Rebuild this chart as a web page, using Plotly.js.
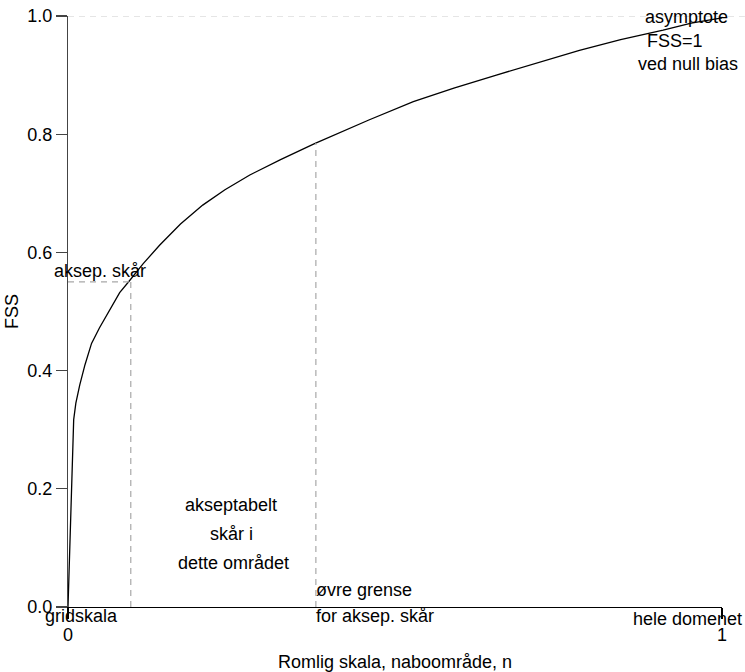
<!DOCTYPE html>
<html>
<head>
<meta charset="utf-8">
<script src="https://cdn.plot.ly/plotly-3.0.1.min.js"></script>
<style>html,body{margin:0;padding:0;background:#fff;}</style>
</head>
<body>
<div id="chart" style="width:745px;height:672px;"></div>
<script>
// FSS curve
const curveX = [0, 0.0087, 0.012, 0.018, 0.026, 0.036, 0.048, 0.06, 0.079, 0.094, 0.115, 0.140, 0.172, 0.206, 0.24, 0.278, 0.325, 0.377, 0.400, 0.46, 0.528, 0.59, 0.655, 0.72, 0.782, 0.845, 0.910, 0.953, 1.0];
const curveY = [0, 0.317, 0.345, 0.376, 0.41, 0.446, 0.472, 0.495, 0.532, 0.552, 0.581, 0.612, 0.648, 0.680, 0.706, 0.731, 0.757, 0.784, 0.795, 0.824, 0.855, 0.878, 0.900, 0.922, 0.942, 0.960, 0.976, 0.988, 0.997];

// reference values
const acceptX = 0.096;     // scale where the acceptable score is reached
const acceptY = 0.55;      // acceptable score
const upperX = 0.379;      // upper limit for acceptable score
const upperY = 0.785;
const asymptoteY = 1.0;

const xTickVals = [0, 1];
const xTickText = ['0', '1'];

const xTitle = 'Romlig skala, naboområde, n';
const yTitle = 'FSS';

// annotation texts
const labels = {
  accept: 'aksep. skår',
  grid: 'gridskala',
  upper1: 'øvre grense',
  upper2: 'for aksep. skår',
  domain: 'hele domenet',
  region: ['akseptabelt', 'skår i', 'dette området'],
  asym: ['asymptote', 'FSS=1', 'ved null bias']
};

const font = {family: 'Liberation Sans, Arial, sans-serif', size: 18, color: '#000'};

const trace = {
  x: curveX, y: curveY, type: 'scatter', mode: 'lines',
  line: {color: '#000', width: 1.3}, hoverinfo: 'skip', showlegend: false
};

const gray = '#a8a8a8';
const shapes = [
  {type: 'line', xref: 'paper', yref: 'y', x0: 0, x1: 1.035, y0: asymptoteY, y1: asymptoteY,
   line: {color: '#cccccc', width: 1.2, dash: '6px,5px'}},
  {type: 'line', xref: 'x', yref: 'y', x0: 0, x1: acceptX, y0: acceptY, y1: acceptY,
   line: {color: gray, width: 1.2, dash: '6px,5px'}},
  {type: 'line', xref: 'x', yref: 'y', x0: acceptX, x1: acceptX, y0: 0, y1: acceptY,
   line: {color: gray, width: 1.2, dash: '6px,5px'}},
  {type: 'line', xref: 'x', yref: 'y', x0: upperX, x1: upperX, y0: 0, y1: upperY,
   line: {color: gray, width: 1.2, dash: '6px,5px'}}
];

// axis ranges are [0,1] and fill the plot area, so paper coordinates equal data coordinates
function ann(text, x, y, xanchor) {
  return {text: text, x: x, y: y, xref: 'paper', yref: 'paper', showarrow: false,
          xanchor: xanchor || 'center', yanchor: 'middle', font: font};
}

const annotations = [
  ann(labels.accept, 0.0485, 0.569),
  ann(labels.grid, 0.021, -0.016),
  ann(labels.upper1, 0.3755, 0.0286, 'left'),
  ann(labels.upper2, 0.3755, -0.016, 'left'),
  ann(labels.domain, 0.9476, -0.02),
  ann(labels.region[0], 0.2488, 0.1734),
  ann(labels.region[1], 0.2495, 0.1227),
  ann(labels.region[2], 0.2530, 0.0737),
  ann(labels.asym[0], 0.9459, 0.9988),
  ann(labels.asym[1], 0.9277, 0.9583),
  ann(labels.asym[2], 0.9476, 0.9189)
];

const layout = {
  width: 745, height: 672, autosize: false,
  margin: {l: 68, r: 23, t: 16, b: 65, pad: 0},
  paper_bgcolor: '#fff', plot_bgcolor: '#fff',
  font: font,
  showlegend: false,
  xaxis: {
    range: [0, 1], tickvals: xTickVals, ticktext: xTickText,
    ticks: 'outside', ticklen: 11, tickcolor: '#000', tickwidth: 1.2,
    showline: true, linecolor: '#000', linewidth: 1.2,
    showgrid: false, zeroline: false, fixedrange: true,
    tickfont: font,
    title: {text: xTitle, font: font, standoff: 12}
  },
  yaxis: {
    range: [0, 1], dtick: 0.2, tick0: 0, tickformat: '.1f',
    ticks: 'outside', ticklen: 11, tickcolor: '#444', tickwidth: 1.2,
    showline: true, linecolor: '#444', linewidth: 1.2,
    showgrid: false, zeroline: false, fixedrange: true,
    tickfont: font,
    title: {text: yTitle, font: font, standoff: 3}
  },
  shapes: shapes,
  annotations: annotations
};

Plotly.newPlot('chart', [trace], layout, {displayModeBar: false, staticPlot: true});
</script>
</body>
</html>
